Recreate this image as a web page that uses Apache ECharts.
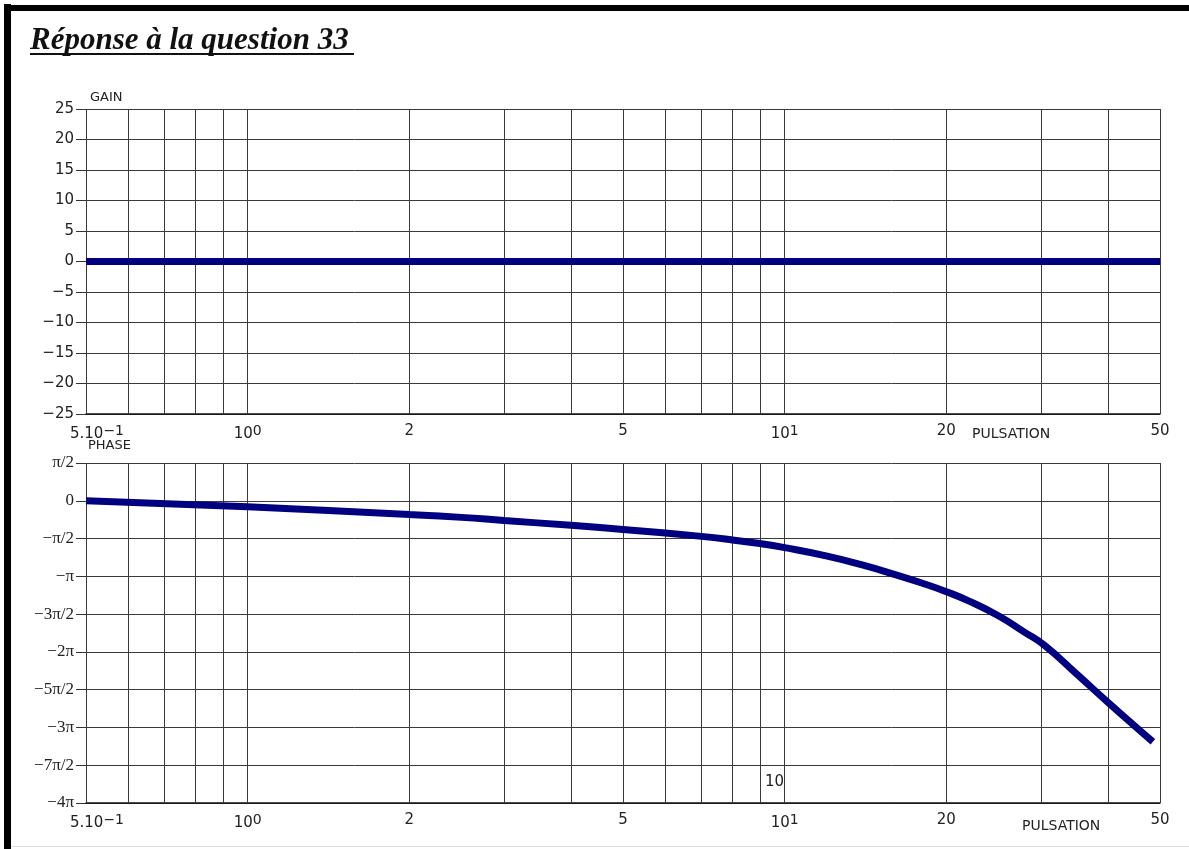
<!DOCTYPE html>
<html><head><meta charset="utf-8">
<script src="https://cdn.jsdelivr.net/npm/echarts@6/dist/echarts.min.js"></script>
<style>html,body{margin:0;padding:0;background:#fff;overflow:hidden}#c{width:1189px;height:849px}</style>
</head><body><div id="c"></div>
<script>
// ---- data ----
const gridLinesX = [0.5,0.6,0.7,0.8,0.9,1,2,3,4,5,6,7,8,9,10,20,30,40,50];
const xTickValues = [0.5,1,2,5,10,20,50];
const xTickLabels = ['5.10{s|−1}','10{s|0}','2','5','10{s|1}','20','50'];
const gainFreq = [0.5, 50];
const gainValues = [0, 0];
const phaseFreq = [0.5, 1, 2, 2.5, 3, 4, 5, 6, 7, 8, 9, 10, 12, 14, 16, 18, 20, 22, 25, 28, 30.5, 35, 40, 45, 48.5];
const phaseValues = [0, -0.25, -0.57, -0.69, -0.82, -1.02, -1.19, -1.34, -1.48, -1.63, -1.78, -1.95, -2.30, -2.68, -3.06, -3.42, -3.78, -4.16, -4.78, -5.47, -6.02, -7.21, -8.38, -9.39, -10.02];
const phaseTickLabels = ['−4π','−7π/2','−3π','−5π/2','−2π','−3π/2','−π','−π/2','0','π/2'];

const LINE = '#000080';
const GRIDC = '#3a3a3a';

function pairs(xs, ys){ return xs.map((x,i)=>[x, ys[i]]); }

function gridMarkLine(){
  return {
    silent: true, symbol: ['none','none'], animation: false,
    lineStyle: {color: GRIDC, width: 1, type: 'solid'},
    label: {show: false},
    data: gridLinesX.map(v => {
      const k = xTickValues.indexOf(v);
      const d = {xAxis: v};
      if (k >= 0) {
        d.label = {
          show: true, position: 'start', distance: 10,
          formatter: xTickLabels[k],
          color: '#222', fontFamily: 'DejaVu Sans', fontSize: 15,
          padding: k === 0 ? [0,0,0,22] : 0,
          rich: {s: {fontSize: 14, fontFamily: 'DejaVu Sans', color: '#222', padding: [0,0,7,0], verticalAlign: 'top'}}
        };
      }
      return d;
    })
  };
}

const chart = echarts.init(document.getElementById('c'), null, {renderer: 'canvas'});
const xAxisBase = {
  type: 'log', logBase: 10, min: 0.5, max: 50,
  axisLabel: {show: false}, axisTick: {show: false}, splitLine: {show: false},
  axisLine: {show: true, onZero: false, lineStyle: {color: '#111', width: 1.5}}
};
const option = {
  backgroundColor: '#fff',
  animation: false,
  grid: [
    {left: 86, top: 109, width: 1074, height: 305},
    {left: 86, top: 463, width: 1074, height: 340}
  ],
  xAxis: [
    Object.assign({gridIndex: 0}, xAxisBase),
    Object.assign({gridIndex: 1}, xAxisBase)
  ],
  yAxis: [
    {gridIndex: 0, type: 'value', min: -25, max: 25, interval: 5,
     axisLine: {show: false},
     axisTick: {show: true, length: 10, lineStyle: {color: '#333'}},
     axisLabel: {margin: 12, color: '#222', fontFamily: 'DejaVu Sans', fontSize: 15,
       formatter: v => String(v).replace('-', '−')},
     splitLine: {show: true, lineStyle: {color: GRIDC, width: 1}}},
    {gridIndex: 1, type: 'value', min: -4*Math.PI, max: Math.PI/2, interval: Math.PI/2,
     axisLine: {show: false},
     axisTick: {show: true, length: 10, lineStyle: {color: '#333'}},
     axisLabel: {margin: 12, color: '#222', fontFamily: 'Liberation Serif', fontSize: 17,
       formatter: v => phaseTickLabels[Math.round(v/(Math.PI/2)) + 8] || ''},
     splitLine: {show: true, lineStyle: {color: GRIDC, width: 1}}}
  ],
  series: [
    {type: 'line', xAxisIndex: 0, yAxisIndex: 0, z: 1, data: pairs(gainFreq, gainValues),
     showSymbol: false, lineStyle: {width: 0, opacity: 0}, markLine: gridMarkLine()},
    {type: 'line', xAxisIndex: 1, yAxisIndex: 1, z: 1, data: pairs(gainFreq, gainValues),
     showSymbol: false, lineStyle: {width: 0, opacity: 0}, markLine: gridMarkLine()},
    {name: 'Gain', type: 'line', xAxisIndex: 0, yAxisIndex: 0, z: 5,
     data: pairs(gainFreq, gainValues), showSymbol: false, silent: true,
     lineStyle: {color: LINE, width: 7}},
    {name: 'Phase', type: 'line', xAxisIndex: 1, yAxisIndex: 1, z: 5, smooth: 0.5,
     data: pairs(phaseFreq, phaseValues), showSymbol: false, silent: true,
     lineStyle: {color: LINE, width: 7}}
  ],
  graphic: [
    {type: 'rect', shape: {x: 4, y: 4, width: 7, height: 845}, style: {fill: '#000'}, silent: true},
    {type: 'rect', shape: {x: 4, y: 5, width: 1185, height: 6}, style: {fill: '#000'}, silent: true},
    {type: 'rect', shape: {x: 11, y: 846, width: 1178, height: 1}, style: {fill: '#ddd'}, silent: true},
    {type: 'text', style: {text: 'Réponse à la question 33', x: 30, y: 41, font: 'italic bold 31px "Liberation Serif"',
      fill: '#111', verticalAlign: 'middle', shadowColor: 'rgba(0,0,0,0.35)', shadowOffsetX: 1, shadowOffsetY: 1}},
    {type: 'rect', shape: {x: 30, y: 53, width: 324, height: 2}, style: {fill: '#111'}},
    {type: 'text', style: {text: 'GAIN', x: 90, y: 98, font: '13px "DejaVu Sans"', fill: '#222', verticalAlign: 'middle'}},
    {type: 'text', style: {text: 'PHASE', x: 88, y: 446, font: '13px "DejaVu Sans"', fill: '#222', verticalAlign: 'middle'}},
    {type: 'text', style: {text: 'PULSATION', x: 972, y: 434, font: '14px "DejaVu Sans"', fill: '#222', verticalAlign: 'middle'}},
    {type: 'text', style: {text: 'PULSATION', x: 1022, y: 826, font: '14px "DejaVu Sans"', fill: '#222', verticalAlign: 'middle'}},
    {type: 'text', style: {text: '10', x: 765, y: 782, font: '15px "DejaVu Sans"', fill: '#222', verticalAlign: 'middle'}}
  ]
};
chart.setOption(option);
</script>
</body></html>
